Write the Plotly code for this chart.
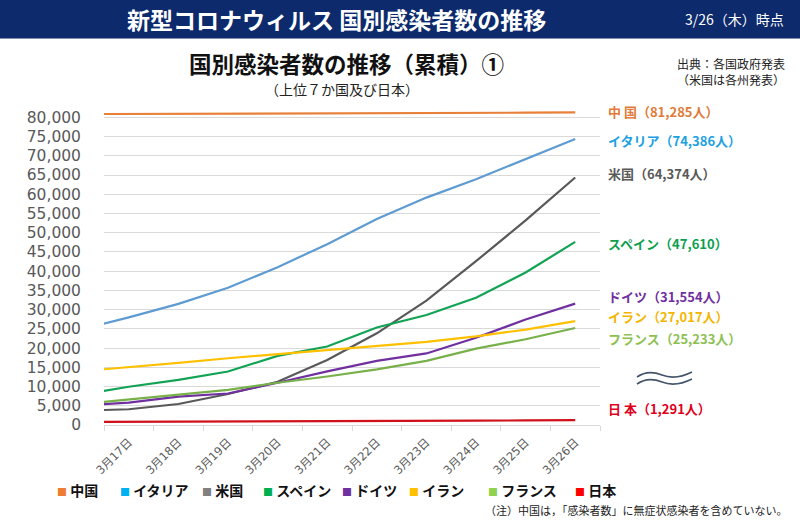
import plotly.graph_objects as go

# ---------------- data ----------------
dates = ["3月16日", "3月17日", "3月18日", "3月19日", "3月20日", "3月21日",
         "3月22日", "3月23日", "3月24日", "3月25日", "3月26日"]

china   = [80860, 80881, 80894, 80928, 80967, 81008, 81054, 81093, 81171, 81218, 81285]
italy   = [24747, 27980, 31506, 35713, 41035, 47021, 53578, 59138, 63927, 69176, 74386]
usa     = [3700, 4100, 5460, 8060, 11260, 16900, 23840, 32320, 42600, 53200, 64374]
spain   = [7798, 9942, 11748, 13910, 17963, 20410, 25374, 28603, 33089, 39673, 47610]
germany = [5100, 5800, 7360, 8198, 10999, 13957, 16662, 18610, 22672, 27436, 31554]
iran    = [13938, 14991, 16169, 17361, 18407, 19644, 20610, 21638, 23049, 24811, 27017]
france  = [5423, 6633, 7730, 9134, 10995, 12612, 14459, 16689, 19856, 22302, 25233]
japan   = [814, 829, 873, 914, 950, 1007, 1054, 1089, 1128, 1193, 1291]

legend_names = ["中国", "イタリア", "米国", "スペイン", "ドイツ", "イラン", "フランス", "日本"]
label_names  = ["中 国", "イタリア", "米国", "スペイン", "ドイツ", "イラン", "フランス", "日 本"]
label_units  = ["人", "人", "人", "", "人", "人", "人", "人"]
series = [china, italy, usa, spain, germany, iran, france, japan]

y_ticks = list(range(0, 80001, 5000))

# ---------------- styles ----------------
line_colors   = ["#E8803A", "#5E9BD3", "#595959", "#12A354", "#7030A0", "#FFC000", "#78B04A", "#D0101B"]
legend_colors = ["#ED7D31", "#00B0F0", "#808080", "#00B050", "#7030A0", "#FFC000", "#92D050", "#FF0000"]
label_colors  = ["#E07B39", "#1BA1E2", "#595959", "#0C9F4E", "#7030A0", "#F2B600", "#8CC152", "#E0001B"]
label_py      = [111, 140, 173, 243, 296.5, 316.5, 338.5, 408]
legend_px     = [55, 118, 200, 261, 340, 407, 486, 573]

W, H = 800, 522
L, R, T, B = 104, 200, 102, 97
pw, ph = W - L - R, H - T - B


def px(x):
    return (x - L) / pw


def py(y):
    return (H - B - y) / ph


JP = "Noto Sans CJK JP"
MIX = "DejaVu Sans, Noto Sans CJK JP"

fig = go.Figure()
for vals, col in zip(series, line_colors):
    fig.add_trace(go.Scatter(x=dates, y=vals, mode="lines",
                             line=dict(color=col, width=2.2),
                             showlegend=False, hoverinfo="skip"))

annotations = []
shapes = []

# header bar
shapes.append(dict(type="rect", xref="paper", yref="paper",
                   x0=px(0), x1=px(W), y0=py(38), y1=py(-2),
                   fillcolor="#0C2A6C", line=dict(width=0), layer="below"))
shapes.append(dict(type="line", xref="paper", yref="paper",
                   x0=px(0), x1=px(W), y0=py(38.5), y1=py(38.5),
                   line=dict(color="#8090A8", width=1)))
annotations.append(dict(text="<b>新型コロナウィルス 国別感染者数の推移</b>", xref="paper", yref="paper",
                        x=px(336), y=py(19), xanchor="center", yanchor="middle", showarrow=False,
                        font=dict(family=JP, size=23, color="white")))
annotations.append(dict(text="3/26（木）時点", xref="paper", yref="paper",
                        x=px(786), y=py(19), xanchor="right", yanchor="middle", showarrow=False,
                        font=dict(family=JP, size=14, color="white")))

# titles
annotations.append(dict(text="<b>国別感染者数の推移（累積）①</b>", xref="paper", yref="paper",
                        x=px(346), y=py(63), xanchor="center", yanchor="middle", showarrow=False,
                        font=dict(family=JP, size=22.5, color="#111111")))
annotations.append(dict(text="（上位７か国及び日本）", xref="paper", yref="paper",
                        x=px(342), y=py(89), xanchor="center", yanchor="middle", showarrow=False,
                        font=dict(family=JP, size=14, color="#222222")))
annotations.append(dict(text="出典：各国政府発表<br>（米国は各州発表）", xref="paper", yref="paper",
                        x=px(731), y=py(71), xanchor="center", yanchor="middle", showarrow=False,
                        align="center", font=dict(family=JP, size=12, color="#222222")))

# end labels
for name, unit, vals, col, ypx in zip(label_names, label_units, series, label_colors, label_py):
    annotations.append(dict(text=f"<b>{name}（{vals[-1]:,}{unit}）</b>", xref="paper", yref="paper",
                            x=px(607), y=py(ypx), xanchor="left", yanchor="middle", showarrow=False,
                            borderpad=0,
                            font=dict(family=JP, size=13, color=col)))

# custom legend
for name, col, xpx in zip(legend_names, legend_colors, legend_px):
    annotations.append(dict(text=f"<span style='color:{col};font-size:10px'>■</span> <b>{name}</b>",
                            xref="paper", yref="paper", x=px(xpx), y=py(490),
                            xanchor="left", yanchor="middle", showarrow=False,
                            font=dict(family=JP, size=14, color="#111111")))

# footnote
annotations.append(dict(text="（注）中国は，「感染者数」に無症状感染者を含めていない。", xref="paper", yref="paper",
                        x=px(790), y=py(510), xanchor="right", yanchor="middle", showarrow=False,
                        font=dict(family=JP, size=11, color="#222222")))

# wavy break symbol
def wave(dy):
    pts = [(637, 377), (644, 372), (652, 371), (662, 375), (672, 379), (682, 377), (692, 372)]
    p = [(px(x), py(y + dy)) for x, y in pts]
    return (f"M {p[0][0]},{p[0][1]} C {p[1][0]},{p[1][1]} {p[2][0]},{p[2][1]} {p[3][0]},{p[3][1]} "
            f"C {p[4][0]},{p[4][1]} {p[5][0]},{p[5][1]} {p[6][0]},{p[6][1]}")

for dy in (0, 7):
    shapes.append(dict(type="path", xref="paper", yref="paper", path=wave(dy),
                       line=dict(color="#44546A", width=1.6)))

fig.update_layout(
    width=W, height=H,
    margin=dict(l=L, r=R, t=T, b=B),
    paper_bgcolor="white", plot_bgcolor="white",
    showlegend=False,
    annotations=annotations, shapes=shapes,
    xaxis=dict(type="category", categoryorder="array", categoryarray=dates,
               range=[0.5, len(dates) - 0.5], tickson="boundaries",
               showgrid=False, showline=True, linecolor="#D9D9D9", linewidth=1,
               ticks="outside", ticklen=5, tickcolor="#D9D9D9",
               ticklabelstandoff=5,
               tickangle=-45, tickfont=dict(family=MIX, size=11.5, color="#595959"),
               fixedrange=True),
    yaxis=dict(range=[0, 84000], tickvals=y_ticks, tickformat=",",
               showgrid=True, gridcolor="#D9D9D9", gridwidth=1,
               zeroline=False, showline=False,
               ticklabelstandoff=22,
               tickfont=dict(family="DejaVu Sans", size=15.5, color="#595959"),
               fixedrange=True),
)

fig.write_html("out.html", config={"displayModeBar": False},
               post_script="document.body.style.margin='0';document.body.style.overflow='hidden';")
